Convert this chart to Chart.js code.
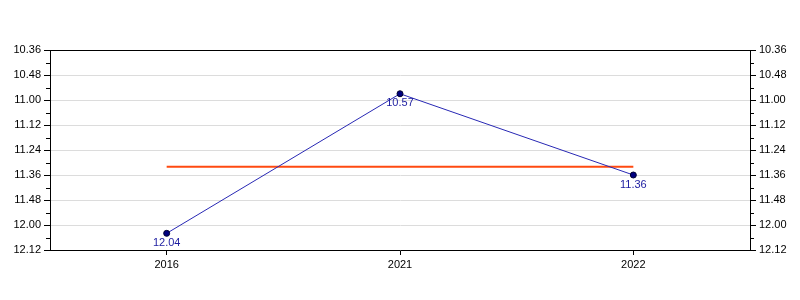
<!DOCTYPE html>
<html>
<head>
<meta charset="utf-8">
<script src="https://cdn.jsdelivr.net/npm/chart.js@4.4.0/dist/chart.umd.min.js"></script>
<style>
  html, body { margin: 0; padding: 0; background: #fff; }
  #wrap { width: 800px; height: 300px; }
</style>
</head>
<body>
<div id="wrap"><canvas id="chart"></canvas></div>
<script>
// times are read as min.sec
const years = ['2016', '2021', '2022'];
const times = ['12.04', '10.57', '11.36'];
const meanTimes = ['11.32', '11.32', '11.32'];
const axisMin = '10.36';
const axisMax = '12.12';
const axisStep = 12; // seconds

function to_sec(t) {
    let parts = t.split('.');
    return parseInt(parts[0]) * 60 + parseInt(parts[1]);
}
function fmt_sec(v) {
    let m = Math.floor(v / 60);
    let s = Math.round(v - m * 60);
    return m + '.' + String(s).padStart(2, '0');
}

const FONT = {family: '"Liberation Sans", Arial, sans-serif', size: 11};

//Draw the top border, minor ticks and point labels by hand.
const extras = {
    id: 'extras',
    afterDatasetsDraw(chart) {
        const ctx = chart.ctx;
        const meta = chart.getDatasetMeta(0);
        ctx.save();
        ctx.fillStyle = '#1c1ca0';
        ctx.font = '11px "Liberation Sans", Arial, sans-serif';
        ctx.textAlign = 'center';
        ctx.textBaseline = 'top';
        meta.data.forEach((pt, i) => {
            ctx.fillText(times[i], pt.x, pt.y + 4);
        });
        ctx.restore();
    },
    afterDraw(chart) {
        const ctx = chart.ctx;
        const a = chart.chartArea;
        ctx.save();
        ctx.strokeStyle = '#000';
        ctx.lineWidth = 1;
        ctx.beginPath();
        ctx.moveTo(a.left, Math.round(a.top) + 0.5);
        ctx.lineTo(a.right, Math.round(a.top) + 0.5);
        ctx.stroke();
        ['y', 'y2'].forEach((id) => {
            const sc = chart.scales[id];
            const x0 = id == 'y' ? Math.round(sc.right) : Math.round(sc.left);
            const dir = id == 'y' ? -1 : 1;
            for (let i = 0; i < sc.ticks.length - 1; i++) {
                let v = (sc.ticks[i].value + sc.ticks[i + 1].value) / 2;
                let py = Math.round(sc.getPixelForValue(v)) + 0.5;
                ctx.beginPath();
                ctx.moveTo(x0, py);
                ctx.lineTo(x0 + dir * 4, py);
                ctx.stroke();
            }
        });
        ctx.restore();
    }
};

function y_axis(pos, onArea) {
    return {
        type: 'linear',
        position: pos,
        reverse: true,
        min: to_sec(axisMin),
        max: to_sec(axisMax),
        afterFit: (s) => { s.width = 50; },
        ticks: {
            stepSize: axisStep,
            color: '#000',
            font: FONT,
            padding: 3,
            callback: (v) => fmt_sec(v)
        },
        grid: {
            color: '#dcdcdc',
            drawOnChartArea: onArea,
            tickColor: '#000',
            tickLength: 6
        },
        border: {color: '#000', width: 1}
    };
}

new Chart(document.getElementById('chart'), {
    type: 'line',
    data: {
        labels: years,
        datasets: [{
            data: times.map(to_sec),
            borderColor: '#2828b4',
            borderWidth: 1,
            pointRadius: 3,
            pointBackgroundColor: '#000080',
            pointBorderColor: '#000030',
            pointBorderWidth: 1,
            tension: 0,
            yAxisID: 'y'
        }, {
            data: meanTimes.map(to_sec),
            borderColor: '#ff4a10',
            borderWidth: 2,
            pointRadius: 0,
            tension: 0,
            yAxisID: 'y'
        }]
    },
    options: {
        responsive: true,
        maintainAspectRatio: false,
        animation: false,
        layout: {padding: {top: 50, left: 0, right: 0, bottom: 0}},
        plugins: {legend: {display: false}, tooltip: {enabled: false}},
        scales: {
            x: {
                offset: true,
                afterFit: (s) => { s.height = 50; },
                ticks: {color: '#000', font: FONT, padding: 3},
                grid: {drawOnChartArea: false, tickColor: '#000', tickLength: 5},
                border: {color: '#000', width: 1}
            },
            y: y_axis('left', true),
            y2: y_axis('right', false)
        }
    },
    plugins: [extras]
});
</script>
</body>
</html>
